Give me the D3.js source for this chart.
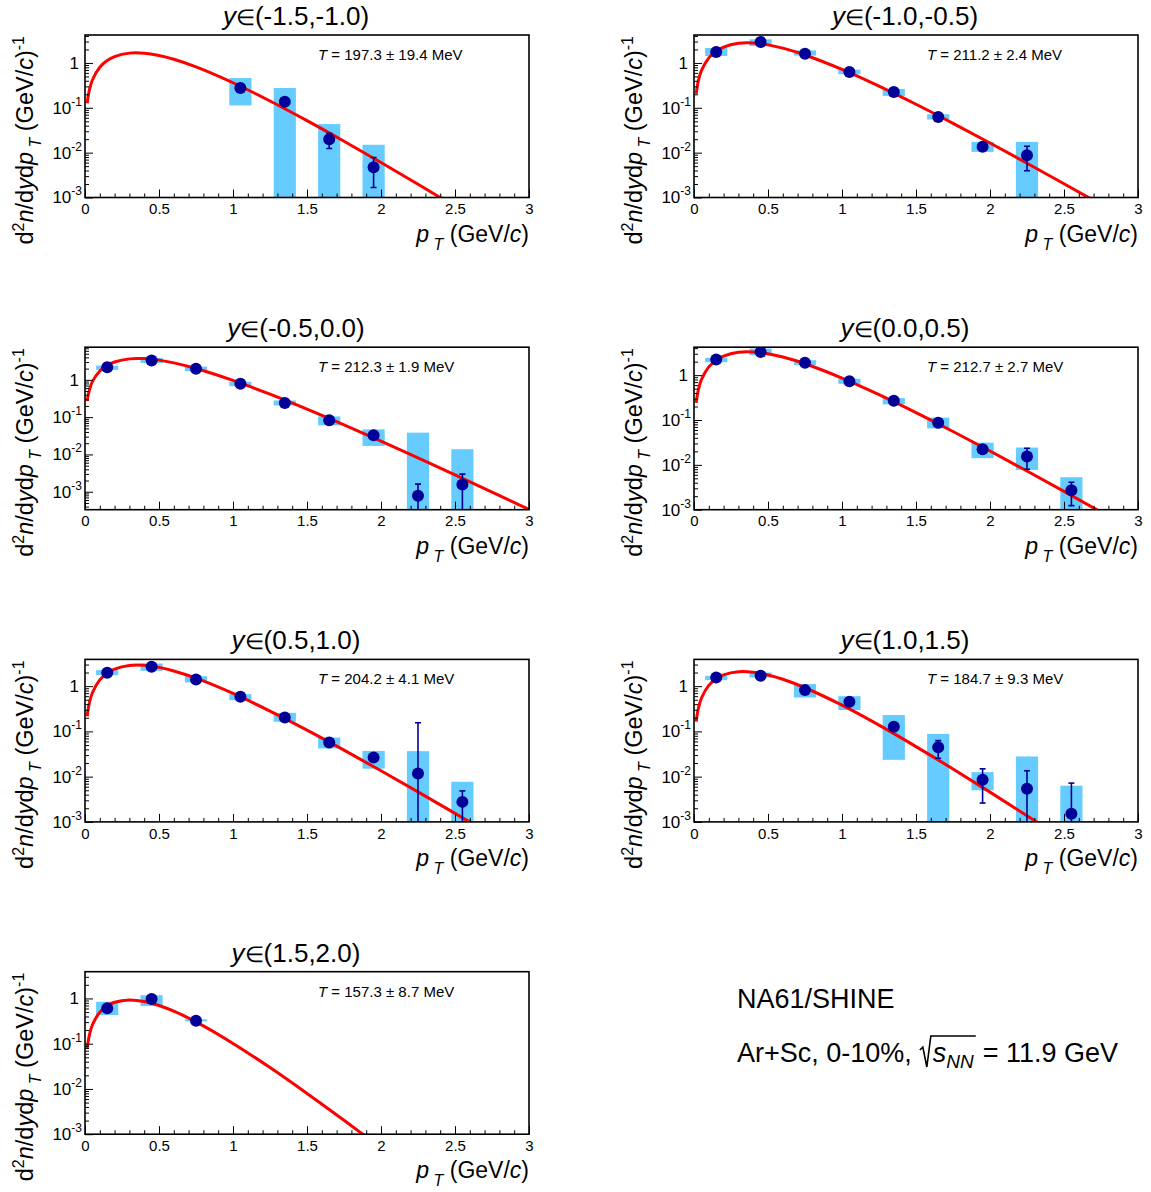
<!DOCTYPE html>
<html><head><meta charset="utf-8">
<script src="https://cdn.jsdelivr.net/npm/d3@7"></script>
<style>
body{margin:0;background:#fff}
svg{display:block}
text{font-family:"Liberation Sans",Arial,Helvetica,sans-serif;white-space:pre}
</style>
</head><body>
<svg id="c" width="1151" height="1192"></svg>
<script>
// ---------------- data ----------------
const rapidityBins = ["(-1.5,-1.0)", "(-1.0,-0.5)", "(-0.5,0.0)", "(0.0,0.5)", "(0.5,1.0)", "(1.0,1.5)", "(1.5,2.0)"];
const temperatures = ["197.3 \u00b1 19.4", "211.2 \u00b1 2.4", "212.3 \u00b1 1.9", "212.7 \u00b1 2.7", "204.2 \u00b1 4.1", "184.7 \u00b1 9.3", "157.3 \u00b1 8.7"];
const ptBins = [0.15, 0.45, 0.75, 1.05, 1.35, 1.65, 1.95, 2.25, 2.55];
const ptHalfWidth = 0.075;

const yields = [
  [null, null, null, 0.277, 0.137, 0.020, 0.0047, null, null],
  [1.76, 2.94, 1.61, 0.63, 0.226, 0.0627, 0.01346, 0.0088, null],
  [2.18, 3.28, 1.97, 0.78, 0.238, 0.082, 0.0326, 0.00078, 0.00157],
  [2.23, 3.30, 1.88, 0.735, 0.269, 0.087, 0.0223, 0.0153, 0.0027],
  [1.97, 2.68, 1.40, 0.58, 0.203, 0.0569, 0.0265, 0.01172, 0.00277],
  [1.55, 1.69, 0.817, 0.452, 0.127, 0.0447, 0.0085, 0.0054, 0.00152],
  [0.61, 0.97, 0.322, null, null, null, null, null, null]
];
const sysHigh = [
  [null, null, null, 0.46, 0.277, 0.0434, 0.015, null, null],
  [2.16, 3.37, 1.91, 0.71, 0.264, 0.072, 0.0174, 0.0174, null],
  [2.41, 3.87, 2.27, 0.885, 0.28, 0.105, 0.047, 0.0384, 0.0138],
  [2.43, 3.92, 2.15, 0.83, 0.308, 0.113, 0.0313, 0.0243, 0.0053],
  [2.26, 3.17, 1.66, 0.665, 0.257, 0.073, 0.037, 0.0366, 0.0077],
  [1.69, 2.0, 1.11, 0.60, 0.23, 0.088, 0.0126, 0.0279, 0.0063],
  [0.845, 1.18, 0.345, null, null, null, null, null, null]
];
const sysLow = [
  [null, null, null, 0.113, 1e-6, 1e-6, 1e-6, null, null],
  [1.43, 2.39, 1.46, 0.56, 0.184, 0.0547, 0.0104, 1e-6, null],
  [1.85, 2.84, 1.70, 0.677, 0.206, 0.060, 0.0169, 1e-6, 1e-6],
  [1.94, 2.78, 1.67, 0.64, 0.223, 0.065, 0.0141, 0.0077, 0.0009],
  [1.75, 2.18, 1.21, 0.49, 0.163, 0.042, 0.015, 1e-6, 1e-6],
  [1.36, 1.55, 0.56, 0.296, 0.0235, 1e-6, 0.0050, 1e-6, 1e-6],
  [0.43, 0.68, 0.312, null, null, null, null, null, null]
];
const statHigh = [
  [null, null, null, null, null, 0.027, 0.0078, null, null],
  [null, null, null, null, null, null, null, 0.0139, null],
  [null, null, null, null, null, null, null, 0.0016, 0.00296],
  [null, null, null, null, null, null, null, 0.0235, 0.0041],
  [null, null, null, null, null, null, null, 0.155, 0.00485],
  [null, null, null, null, null, 0.0626, 0.0149, 0.0135, 0.0072],
  [null, null, null, null, null, null, null, null, null]
];
const statLow = [
  [null, null, null, null, null, 0.0124, 0.00167, null, null],
  [null, null, null, null, null, null, null, 0.00394, null],
  [null, null, null, null, null, null, null, 1e-6, 1e-6],
  [null, null, null, null, null, null, null, 0.0080, 0.00123],
  [null, null, null, null, null, null, null, 1e-6, 1e-6],
  [null, null, null, null, null, 0.0256, 0.00261, 1e-6, 1e-6],
  [null, null, null, null, null, null, null, null, null]
];

// fitted curve, read along pT
const fitPt = [0.015, 0.02, 0.03, 0.05, 0.1, 0.15, 0.2, 0.3, 0.4, 0.5, 0.6, 0.75, 1.0, 1.25, 1.5, 1.75, 2.0, 2.25, 2.5, 2.75, 3.0];
const fitValues = [
  [0.1266, 0.1687, 0.2524, 0.4173, 0.8034, 1.132, 1.387, 1.656, 1.648, 1.465, 1.206, 0.8172, 0.3621, 0.1420, 0.05172, 0.01796, 0.006030, 0.001974, 0.000634, 0.000201, 0.0000629],
  [0.2041, 0.2719, 0.4070, 0.6733, 1.299, 1.839, 2.265, 2.746, 2.786, 2.532, 2.137, 1.507, 0.7181, 0.3039, 0.1198, 0.04503, 0.01638, 0.005818, 0.002029, 0.000698, 0.000237],
  [0.2707, 0.3607, 0.5399, 0.8929, 1.724, 2.440, 3.009, 3.650, 3.709, 3.378, 2.855, 2.019, 0.9673, 0.4117, 0.1632, 0.06171, 0.02259, 0.008067, 0.002831, 0.000979, 0.0003346],
  [0.2402, 0.3200, 0.4790, 0.7922, 1.530, 2.166, 2.670, 3.241, 3.294, 3.001, 2.539, 1.798, 0.8628, 0.3679, 0.1462, 0.05537, 0.02032, 0.007273, 0.002557, 0.000886, 0.000303],
  [0.2166, 0.2885, 0.4317, 0.7138, 1.376, 1.944, 2.388, 2.873, 2.888, 2.597, 2.166, 1.497, 0.6889, 0.2809, 0.1066, 0.03853, 0.01348, 0.004602, 0.001543, 0.000510, 0.000166],
  [0.1643, 0.2188, 0.3273, 0.5408, 1.038, 1.458, 1.776, 2.087, 2.036, 1.769, 1.419, 0.9218, 0.3790, 0.1373, 0.04611, 0.01474, 0.004549, 0.001369, 0.000404, 0.0001176, 0.0000338],
  [0.07898, 0.1052, 0.1573, 0.2594, 0.4948, 0.6864, 0.8231, 0.9273, 0.8566, 0.6983, 0.5223, 0.3028, 0.1014, 0.02961, 0.007963, 0.002032, 0.000499, 0.0001195, 0.0000280, 0.0000065, 0.0000015]
];

const yMin = [1e-3, 1e-3, 3.3e-4, 1e-3, 1e-3, 1e-3, 1e-3];
const yMax = [4.2, 4.2, 7.5, 4.2, 3.9, 3.9, 3.9];
const xDomain = [0, 3];
const xTicks = [0, 0.5, 1, 1.5, 2, 2.5, 3];
const xTickLabels = ["0", "0.5", "1", "1.5", "2", "2.5", "3"];
const yTicks = [1e-3, 1e-2, 1e-1, 1];

// ---------------- layout / style ----------------
const FONT = '"Liberation Sans",Arial,Helvetica,sans-serif';
const W = 444, H = 162.5;
const colLeft = [85, 694];
const rowTop = [35, 347.2, 659.4, 971.7];
const NAVY = "#000099", BOXC = "#66ccff", RED = "#ff0000";

const svg = d3.select("#c");

rapidityBins.forEach((rb, p) => {
  const left = colLeft[p % 2], top = rowTop[Math.floor(p / 2)];
  const g = svg.append("g").attr("transform", `translate(${left},${top})`);
  const x = d3.scaleLinear().domain(xDomain).range([0, W]);
  const y = d3.scaleLog().domain([yMin[p], yMax[p]]).range([H, 0]);
  const lo = yMin[p];

  const clipId = "clip" + p;
  g.append("clipPath").attr("id", clipId).append("rect").attr("x", 0).attr("y", 0).attr("width", W).attr("height", H);
  const inner = g.append("g").attr("clip-path", `url(#${clipId})`);

  const pts = ptBins.map((pt, i) => ({
    pt, v: yields[p][i], sh: sysHigh[p][i], sl: sysLow[p][i], eh: statHigh[p][i], el: statLow[p][i]
  })).filter(d => d.v !== null);

  // systematic boxes
  inner.selectAll("rect.sys").data(pts).enter().append("rect")
    .attr("x", d => x(d.pt - ptHalfWidth))
    .attr("width", d => x(d.pt + ptHalfWidth) - x(d.pt - ptHalfWidth))
    .attr("y", d => y(d.sh))
    .attr("height", d => y(Math.max(d.sl, lo * 0.5)) - y(d.sh))
    .attr("fill", BOXC);

  // fit curve
  const line = d3.line().x(d => x(d[0])).y(d => y(d[1])).curve(d3.curveCatmullRom.alpha(0.5));
  inner.append("path").datum(fitPt.map((pt, i) => [pt, fitValues[p][i]]))
    .attr("d", line).attr("fill", "none").attr("stroke", RED).attr("stroke-width", 3);

  // stat error bars
  const eb = pts.filter(d => d.eh !== null);
  inner.selectAll("line.err").data(eb).enter().append("line")
    .attr("x1", d => x(d.pt)).attr("x2", d => x(d.pt))
    .attr("y1", d => y(Math.max(d.el, lo * 0.5))).attr("y2", d => y(d.eh))
    .attr("stroke", NAVY).attr("stroke-width", 1.6);
  inner.selectAll("line.capH").data(eb).enter().append("line")
    .attr("x1", d => x(d.pt) - 3).attr("x2", d => x(d.pt) + 3)
    .attr("y1", d => y(d.eh)).attr("y2", d => y(d.eh))
    .attr("stroke", NAVY).attr("stroke-width", 1.6);
  inner.selectAll("line.capL").data(eb.filter(d => d.el > lo)).enter().append("line")
    .attr("x1", d => x(d.pt) - 3).attr("x2", d => x(d.pt) + 3)
    .attr("y1", d => y(d.el)).attr("y2", d => y(d.el))
    .attr("stroke", NAVY).attr("stroke-width", 1.6);

  // markers
  inner.selectAll("circle").data(pts).enter().append("circle")
    .attr("cx", d => x(d.pt)).attr("cy", d => y(d.v)).attr("r", 6).attr("fill", NAVY);

  // axes
  const minorX = d3.range(1, 30).map(i => i / 10).filter((v, i) => (i + 1) % 5 !== 0);
  const gxm = g.append("g").attr("transform", `translate(0,${H})`)
    .call(d3.axisBottom(x).tickValues(minorX).tickSize(-4).tickFormat(""));
  gxm.select(".domain").remove();
  const gx = g.append("g").attr("transform", `translate(0,${H})`)
    .call(d3.axisBottom(x).tickValues(xTicks).tickSize(-8).tickPadding(6).tickFormat((d, i) => xTickLabels[i]));
  gx.select(".domain").remove();
  gx.attr("font-size", 15).attr("font-family", FONT);

  const minorY = [];
  [1e-4, 1e-3, 1e-2, 1e-1, 1].forEach(dec => { for (let k = 2; k <= 9; k++) { const v = dec * k; if (v > yMin[p] && v < yMax[p]) minorY.push(v); } });
  const gym = g.append("g").call(d3.axisLeft(y).tickValues(minorY).tickSize(-4).tickFormat(""));
  gym.select(".domain").remove();
  const gy = g.append("g").call(d3.axisLeft(y).tickValues(yTicks.filter(v => v >= yMin[p] * 0.999)).tickSize(-8).tickPadding(3).tickFormat(""));
  gy.select(".domain").remove();
  gy.attr("font-size", 17).attr("font-family", FONT);
  gy.selectAll(".tick text").each(function (d) {
    const t = d3.select(this);
    const e = Math.round(Math.log10(d));
    if (e === 0) { t.attr("x", -6).text("1"); }
    else {
      t.append("tspan").text("10");
      t.append("tspan").attr("font-size", 12).attr("dy", -8).text(String(e));
    }
  });

  // frame
  g.append("rect").attr("x", 0).attr("y", 0).attr("width", W).attr("height", H)
    .attr("fill", "none").attr("stroke", "#000").attr("stroke-width", 1.6);

  // title
  const tt = g.append("text").attr("x", 211).attr("y", -10).attr("text-anchor", "middle").attr("font-size", 26);
  tt.append("tspan").attr("font-style", "italic").text("y");
  tt.append("tspan").attr("font-size", 22).text("\u2208");
  tt.append("tspan").text(rb);

  // temperature label
  const tl = g.append("text").attr("x", 233).attr("y", 25).attr("font-size", 15);
  tl.append("tspan").attr("font-style", "italic").text("T");
  tl.append("tspan").text(" = " + temperatures[p] + " MeV");

  // x title
  const xt = g.append("text").attr("x", W).attr("y", H + 44).attr("text-anchor", "end").attr("font-size", 23);
  xt.append("tspan").attr("font-style", "italic").text("p");
  xt.append("tspan").attr("font-style", "italic").attr("font-size", 16).attr("dy", 8).text(" T");
  xt.append("tspan").attr("dy", -8).text(" (GeV/");
  xt.append("tspan").attr("font-style", "italic").text("c");
  xt.append("tspan").text(")");

  // y title
  const yt = g.append("text").attr("transform", "translate(-52,1) rotate(-90)").attr("text-anchor", "end").attr("font-size", 23.5);
  yt.append("tspan").text("d");
  yt.append("tspan").attr("font-size", 16).attr("dy", -9).text("2");
  yt.append("tspan").attr("font-style", "italic").attr("dy", 9).text("n");
  yt.append("tspan").text("/d");
  yt.append("tspan").attr("font-style", "italic").text("y");
  yt.append("tspan").text("d");
  yt.append("tspan").attr("font-style", "italic").text("p");
  yt.append("tspan").attr("font-style", "italic").attr("font-size", 16).attr("dy", 8).text(" T");
  yt.append("tspan").attr("dy", -8).text(" (GeV/");
  yt.append("tspan").attr("font-style", "italic").text("c");
  yt.append("tspan").text(")");
  yt.append("tspan").attr("font-size", 16).attr("dy", -9).text("-1");
});

// ---------------- caption ----------------
const capX = 737;
svg.append("text").attr("x", capX).attr("y", 1008).attr("font-size", 27).text("NA61/SHINE");
const t1 = svg.append("text").attr("x", capX).attr("y", 1062).attr("font-size", 27).text("Ar+Sc, 0-10%,");
const w1 = t1.node().getComputedTextLength();
const rx = capX + w1 + 8;
const t2 = svg.append("text").attr("x", rx + 13).attr("y", 1062).attr("font-size", 27);
t2.append("tspan").attr("font-style", "italic").text("s");
t2.append("tspan").attr("font-style", "italic").attr("font-size", 19).attr("dy", 6).text("NN");
const w2 = t2.node().getComputedTextLength();
svg.append("path")
  .attr("d", `M${rx},${1050} L${rx + 3},${1047} L${rx + 7},${1067} L${rx + 11},${1036} L${rx + 13 + w2 + 2},${1036}`)
  .attr("fill", "none").attr("stroke", "#000").attr("stroke-width", 1.6);
svg.append("text").attr("x", rx + 13 + w2 + 9).attr("y", 1062).attr("font-size", 27).text("= 11.9 GeV");
</script>
</body></html>
